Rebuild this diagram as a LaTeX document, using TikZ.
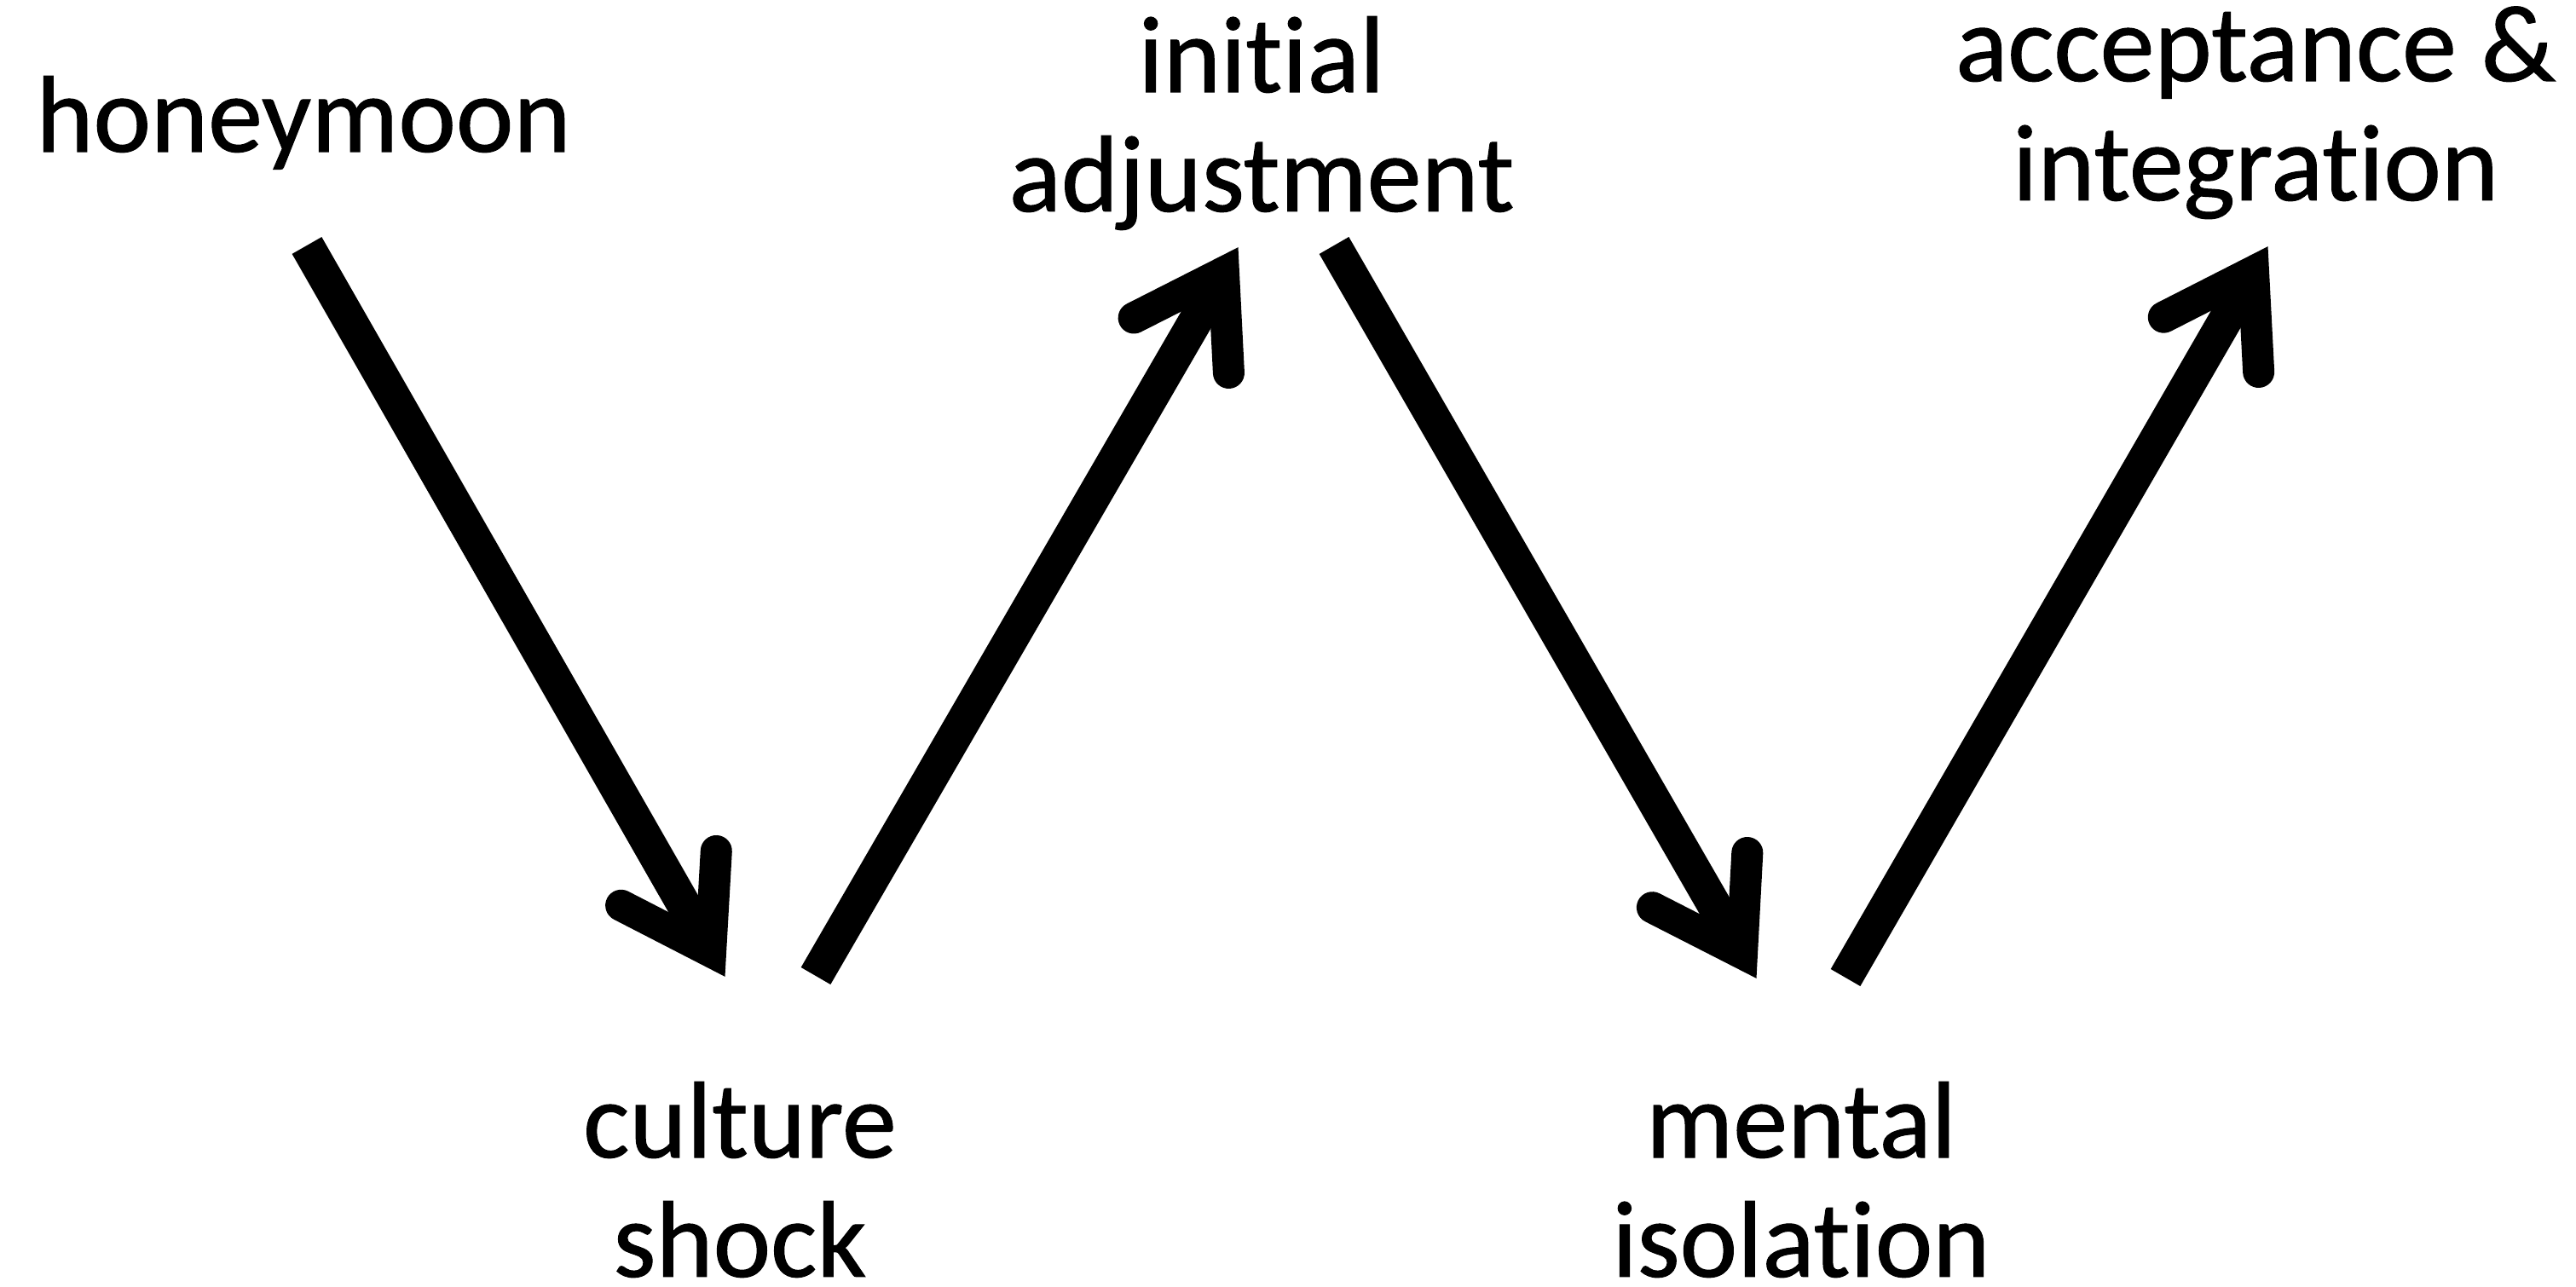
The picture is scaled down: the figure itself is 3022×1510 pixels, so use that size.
\documentclass[tikz,border=0pt]{standalone}
\usepackage{fontspec}
\setmainfont{Carlito}[Ligatures={NoCommon,NoContextual}, FakeBold=0.8]
\usetikzlibrary{calc}
\tikzset{
  lbl/.style={inner sep=0pt, anchor=base, font=\fontsize{36.4}{39.8}\selectfont},
  shaft/.style={line width=0.40cm, line cap=butt},
  barb/.style={line width=0.37cm, line cap=round, line join=miter},
}
\newcommand\twoline[2]{\begin{tabular}[t]{@{}c@{}}#1\\#2\end{tabular}}
\newcommand\zarrow[2]{%
  \coordinate (#2j) at ($(#2)!0.33cm!(#1)$);
  \draw[shaft] (#1) -- (#2j);
  \draw[barb] ($(#2j)!1.18cm!33:(#1)$) -- (#2j) -- ($(#2j)!1.18cm!-33:(#1)$);
}
\begin{document}
\begin{tikzpicture}[x=0.01cm,y=-0.01cm]
\useasboundingbox[fill=white] (0,0) rectangle (3022,1510);
% labels
\node[lbl] (honey) at (356,178) {honeymoon};
\node[lbl] (shock) at (868,1358) {\twoline{culture}{shock}};
\node[lbl] (adjust) at (1480,108) {\twoline{initial}{adjustment}};
\node[lbl] (isol) at (2113,1358) {\twoline{mental}{isolation}};
\node[lbl] (accept) at (2646,95) {\twoline{acceptance \&}{integration}};
% arrow end points
\coordinate (s1) at (360,288);  \coordinate (t1) at (850,1145);
\coordinate (s2) at (957,1145); \coordinate (t2) at (1452,291);
\coordinate (s3) at (1565,288); \coordinate (t3) at (2060,1147);
\coordinate (s4) at (2165,1147);\coordinate (t4) at (2660,290);
\zarrow{s1}{t1}
\zarrow{s2}{t2}
\zarrow{s3}{t3}
\zarrow{s4}{t4}
\end{tikzpicture}
\end{document}
